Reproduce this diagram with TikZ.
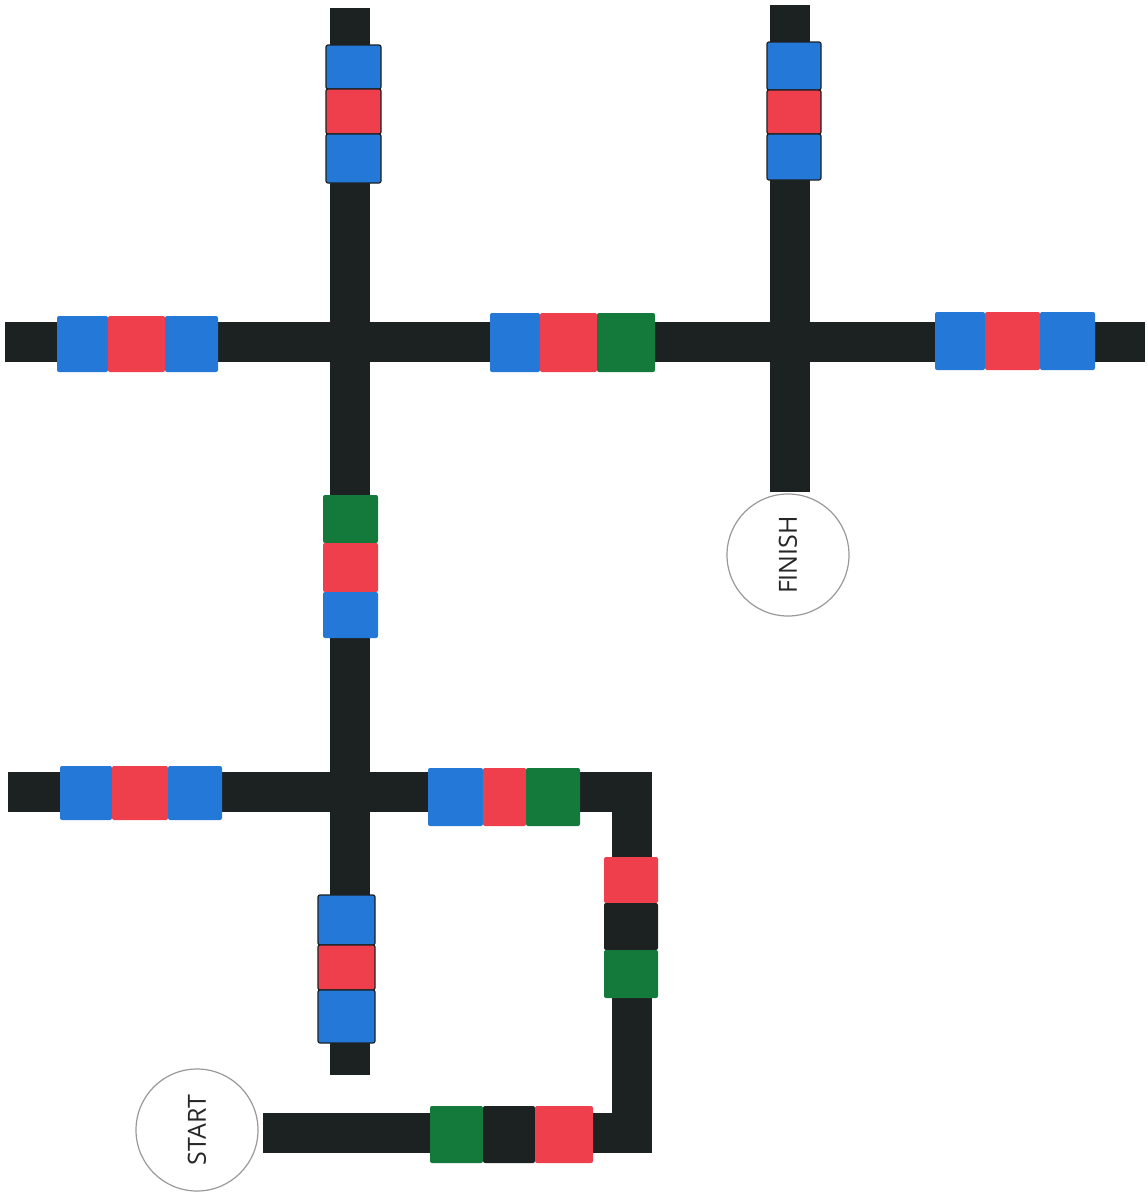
\documentclass[tikz,border=0pt]{standalone}
\usepackage{fontspec}
\setmainfont{Open Sans}
\usepackage{xcolor}
\usepackage{tikz}

\definecolor{trackblack}{HTML}{1C2121}
\definecolor{tileblue}{HTML}{2479D8}
\definecolor{tilered}{HTML}{EF3F4C}
\definecolor{tilegreen}{HTML}{137A3C}

\begin{document}
\begin{tikzpicture}[x=1pt, y=-1pt,
    track/.style={draw=trackblack, line width=40pt, line cap=butt, line join=miter},
    tile/.style={rounded corners=2pt},
    vtile/.style={tile, draw=trackblack, line width=1.2pt},
    endpoint/.style={circle, draw=gray!80, line width=1.2pt, minimum size=122pt, inner sep=0pt, font=\fontsize{25}{25}\selectfont, text=black!85}
]
\useasboundingbox (0,0) rectangle (1148,1195);
% black track
\draw[track] (350,8) -- (350,1075);
\draw[track] (5,342) -- (1145,342);
\draw[track] (790,5) -- (790,492);
\draw[track] (8,792) -- (632,792) -- (632,1133) -- (263,1133);
% vertical tiles
\filldraw[vtile, fill=tileblue] (326,45) rectangle (381,89);
\filldraw[vtile, fill=tilered] (326,89) rectangle (381,134);
\filldraw[vtile, fill=tileblue] (326,134) rectangle (381,183);
\filldraw[vtile, fill=tileblue] (767,42) rectangle (821,90);
\filldraw[vtile, fill=tilered] (767,90) rectangle (821,134);
\filldraw[vtile, fill=tileblue] (767,134) rectangle (821,180);
\fill[tile, tilegreen] (323,495) rectangle (378,543);
\fill[tile, tilered] (323,543) rectangle (378,592);
\fill[tile, tileblue] (323,592) rectangle (378,638);
\filldraw[vtile, fill=tileblue] (318,895) rectangle (375,945);
\filldraw[vtile, fill=tilered] (318,945) rectangle (375,990);
\filldraw[vtile, fill=tileblue] (318,990) rectangle (375,1043);
\fill[tile, tilered] (604,857) rectangle (658,903);
\fill[tile, trackblack] (604,903) rectangle (658,950);
\fill[tile, tilegreen] (604,950) rectangle (658,998);
% horizontal tiles
\fill[tile, tileblue] (57,316) rectangle (108,372);
\fill[tile, tilered] (108,316) rectangle (165,372);
\fill[tile, tileblue] (165,316) rectangle (218,372);
\fill[tile, tileblue] (490,313) rectangle (540,372);
\fill[tile, tilered] (540,313) rectangle (597,372);
\fill[tile, tilegreen] (597,313) rectangle (655,372);
\fill[tile, tileblue] (935,312) rectangle (985,370);
\fill[tile, tilered] (985,312) rectangle (1040,370);
\fill[tile, tileblue] (1040,312) rectangle (1095,370);
\fill[tile, tileblue] (60,766) rectangle (112,820);
\fill[tile, tilered] (112,766) rectangle (168,820);
\fill[tile, tileblue] (168,766) rectangle (222,820);
\fill[tile, tileblue] (428,768) rectangle (483,826);
\fill[tile, tilered] (483,768) rectangle (526,826);
\fill[tile, tilegreen] (526,768) rectangle (580,826);
\fill[tile, tilegreen] (430,1106) rectangle (483,1163);
\fill[tile, trackblack] (483,1106) rectangle (535,1163);
\fill[tile, tilered] (535,1106) rectangle (593,1163);
% start and finish
\node[endpoint] (start) at (197,1130) {\rotatebox{90}{START}};
\node[endpoint] (finish) at (788,555) {\rotatebox{90}{FINISH}};
\end{tikzpicture}
\end{document}
